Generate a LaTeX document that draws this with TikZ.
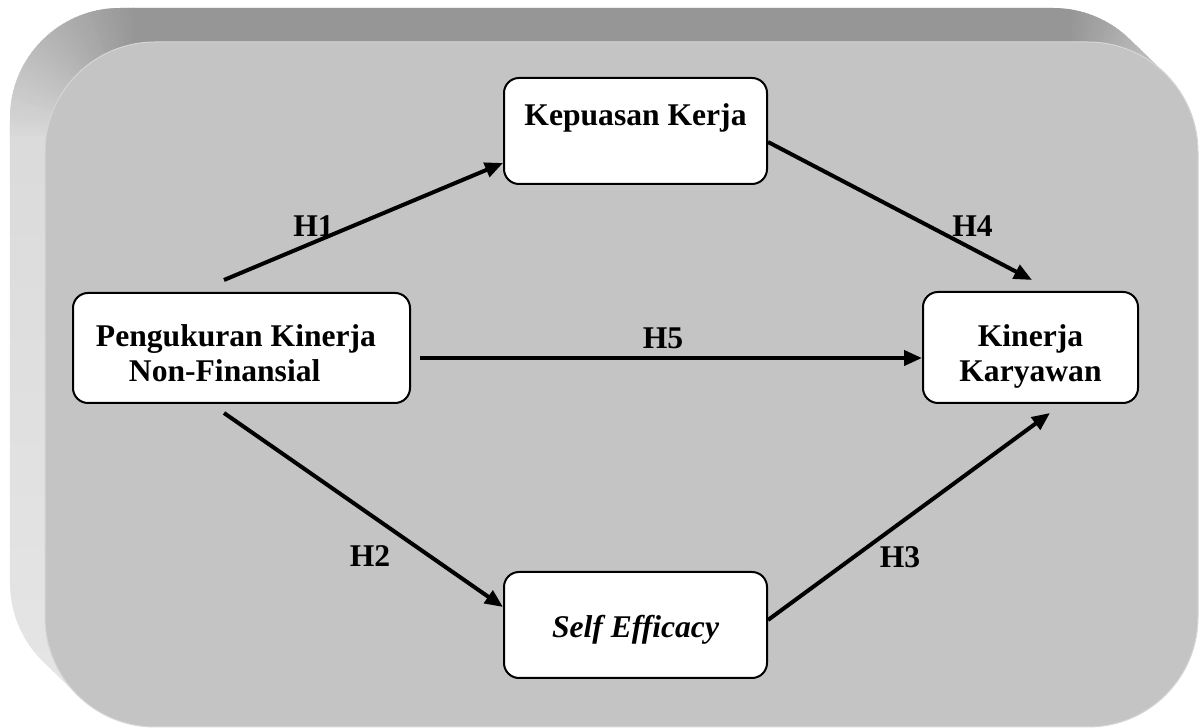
\documentclass[tikz,border=0pt]{standalone}
\usepackage{fontspec}
\setmainfont{Liberation Serif}
\usetikzlibrary{arrows.meta}
\definecolor{facegray}{RGB}{196,196,196}
\definecolor{topbevel}{RGB}{150,150,150}
\definecolor{leftbevel}{RGB}{216,216,216}
\definecolor{leftbevelb}{RGB}{230,230,230}
\definecolor{midbevel}{RGB}{188,188,188}
\definecolor{faceedge}{RGB}{214,214,214}
\begin{document}
\begin{tikzpicture}[x=1pt,y=1pt,
  box/.style={draw=black, line width=2pt, fill=white, rounded corners=15pt, inner sep=0pt,
    font=\fontsize{31.6pt}{35pt}\selectfont\bfseries},
  link/.style={line width=4pt, -{Triangle[length=18pt,width=15pt]}},
  hlabel/.style={anchor=base, inner sep=0pt, font=\fontsize{31.6pt}{35pt}\selectfont\bfseries}]
\useasboundingbox (0,0) rectangle (1202,728);
% bevel (extruded rounded panel)
\begin{scope}
  \clip (10,610) arc[start angle=180,end angle=90,radius=110] -- (1053,720)
    arc[start angle=90,end angle=45,radius=110] -- (1165.8,653.8)
    arc[start angle=45,end angle=0,radius=110] -- (1198,111)
    arc[start angle=0,end angle=-90,radius=110] -- (155,1)
    arc[start angle=-90,end angle=-135,radius=110] -- (42.2,67.2)
    arc[start angle=225,end angle=180,radius=110] -- cycle;
  \shade[top color=leftbevel, bottom color=leftbevelb] (0,0) rectangle (1202,728);
  \begin{scope}[shift={(138,593)}]
    \foreach \i in {0,...,44}{
      \pgfmathtruncatemacro\p{100*\i/44}
      \fill[leftbevel!\p!topbevel] (0,0) -- (90+2*\i:400) -- (92.5+2*\i:400) -- cycle;
    }
  \end{scope}
  \fill[topbevel] (138,593) rectangle (1070,740);
  \begin{scope}[shift={(1070,593)}]
    \foreach \i in {0,...,22}{
      \pgfmathtruncatemacro\p{100*\i/22}
      \fill[topbevel!\p!midbevel] (0,0) -- (45+2*\i:400) -- (47.5+2*\i:400) -- cycle;
    }
    \fill[midbevel] (0,0) -- (46:400) -- (-10:400) -- cycle;
  \end{scope}
\end{scope}
\fill[facegray, draw=faceedge, line width=1pt, rounded corners=110pt] (45,1) rectangle (1198,686);
% boxes
\node[box, minimum width=263pt, minimum height=106pt, text height=48pt, text depth=58pt] (kep) at (635.5,597) {Kepuasan Kerja};
\node[box, minimum width=337pt, minimum height=110pt, align=left, text height=89pt, text depth=21pt] (peng) at (241.5,380) {Pengukuran Kinerja\kern11pt\\\hspace*{33pt}Non-Finansial};
\node[box, minimum width=215pt, minimum height=111pt, align=center, text height=90pt, text depth=21pt] (kin) at (1030.5,380.5) {Kinerja\\Karyawan};
\node[box, minimum width=263pt, minimum height=106pt, text height=66pt, text depth=40pt] (self) at (635.5,103) {\itshape Self Efficacy};
% free ends
\coordinate (h1s) at (224,448);
\coordinate (h4e) at (1032,448);
\coordinate (h5s) at (420,370);
\coordinate (h2s) at (224,315);
\coordinate (h3e) at (1050,315);
% connectors
\draw[link] (h1s) -- ([yshift=-32pt]kep.west);
\draw[link] ([yshift=-11pt]kep.east) -- (h4e);
\draw[link] (h5s) -- ([yshift=-10.5pt]kin.west);
\draw[link] (h2s) -- ([yshift=18pt]self.west);
\draw[link] ([yshift=5pt]self.east) -- (h3e);
% labels
\node[hlabel] (l1) at (313.5,491) {H1};
\node[hlabel] (l4) at (972.5,491) {H4};
\node[hlabel] (l5) at (663,379) {H5};
\node[hlabel] (l2) at (370,161) {H2};
\node[hlabel] (l3) at (900,160) {H3};
\end{tikzpicture}
\end{document}
